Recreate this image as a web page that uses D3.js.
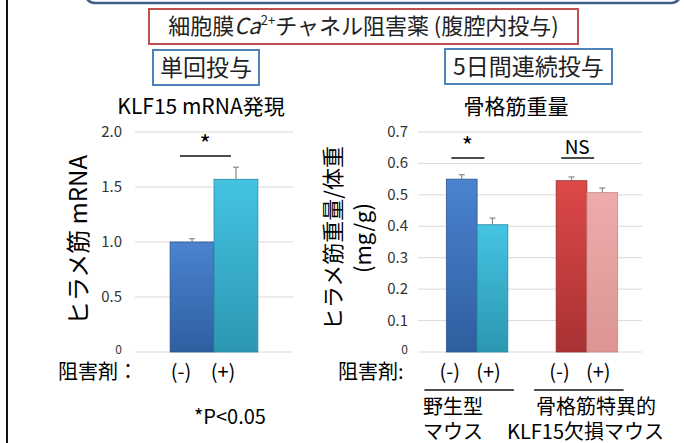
<!DOCTYPE html>
<html>
<head>
<meta charset="utf-8">
<script src="https://cdn.jsdelivr.net/npm/d3@7/dist/d3.min.js"></script>
<style>
  body { margin: 0; background: #fff; }
  svg { display: block; font-family: "Noto Sans CJK JP", "Noto Sans", sans-serif; }
</style>
</head>
<body>
<svg width="684" height="443"></svg>
<script>
// left chart: KLF15 mRNA
const klfGroups = ['(-)', '(+)'];
const klfMean = [1.0, 1.57];
const klfErr = [0.03, 0.11];
const klfTicks = [0, 0.5, 1.0, 1.5, 2.0];

// right chart: muscle weight
const mouseTypes = ['wt', 'ko'];
const inhibitor = ['(-)', '(+)'];
const massMean = {wt: [0.55, 0.405], ko: [0.545, 0.507]};
const massErr = {wt: [0.014, 0.021], ko: [0.012, 0.015]};
const massTicks = [0, 0.1, 0.2, 0.3, 0.4, 0.5, 0.6, 0.7];
const sigMarks = {wt: '*', ko: 'NS'};

let svg = d3.select('svg');

// gradients for the beveled bars
const grads = [
  ['gBlue', '#4b83d0', '#2f5e9f'],
  ['gCyan', '#45c3e3', '#2b97b1'],
  ['gRed', '#de4848', '#a83232'],
  ['gPink', '#eeabab', '#dc9494']
];
let defs = svg.append('defs');
grads.forEach(function(g) {
  let lg = defs.append('linearGradient')
    .attr('id', g[0]).attr('x1', 0).attr('x2', 0).attr('y1', 0).attr('y2', 1);
  lg.append('stop').attr('offset', '0%').attr('stop-color', g[1]);
  lg.append('stop').attr('offset', '100%').attr('stop-color', g[2]);
});

// frame pieces
svg.append('line')
  .attr('x1', 7).attr('x2', 7).attr('y1', 0).attr('y2', 443)
  .attr('stroke', '#111').attr('stroke-width', 2);
svg.append('rect')
  .attr('x', 85).attr('y', -30).attr('width', 596).attr('height', 33)
  .attr('rx', 10)
  .attr('fill', 'none').attr('stroke', '#3d5f8c').attr('stroke-width', 2.5);

// header boxes
function boxText(x, y, w, h, color, size) {
  svg.append('rect')
    .attr('x', x).attr('y', y).attr('width', w).attr('height', h)
    .attr('fill', '#fff').attr('stroke', color).attr('stroke-width', 2);
  return svg.append('text')
    .attr('x', x + w / 2).attr('y', y + h / 2 + size * 0.36)
    .attr('text-anchor', 'middle')
    .style('font-size', size + 'px')
    .attr('fill', '#222');
}
let head = boxText(149, 9, 429, 35, '#c0504d', 22);
head.append('tspan').text('細胞膜');
head.append('tspan').text('Ca').style('font-style', 'italic');
head.append('tspan').text('2+').attr('dy', -9).style('font-size', '13px');
head.append('tspan').text('チャネル阻害薬 (腹腔内投与)').attr('dy', 9);
boxText(153, 50, 106, 35, '#4f81bd', 23).text('単回投与');
boxText(445, 49, 167, 35, '#4f81bd', 23).text('5日間連続投与');

// ---------- left chart ----------
let xL = d3.scaleBand()
  .domain(klfGroups)
  .range([135, 293])
  .paddingInner(0)
  .paddingOuter(0.8);
let yL = d3.scaleLinear().domain([0, 2]).range([352, 132]);

let gL = svg.append('g');
gL.selectAll('line.grid')
  .data(klfTicks)
  .enter()
  .append('line')
  .attr('class', 'grid')
  .attr('x1', 135).attr('x2', 293)
  .attr('y1', function(d) { return yL(d); })
  .attr('y2', function(d) { return yL(d); })
  .attr('stroke', '#d9d9d9');
gL.selectAll('text.tick')
  .data(klfTicks)
  .enter()
  .append('text')
  .attr('class', 'tick')
  .attr('x', 122)
  .attr('y', function(d) { return d === 0 ? yL(d) + 2 : yL(d) + 5; })
  .attr('text-anchor', 'end')
  .style('font-size', function(d) { return d === 0 ? '12px' : '15px'; })
  .attr('fill', '#333')
  .text(function(d) { return d === 0 ? '0' : d.toFixed(1); });

gL.selectAll('rect.bar')
  .data(klfMean)
  .enter()
  .append('rect')
  .attr('class', 'bar')
  .attr('x', function(d, i) { return xL(klfGroups[i]); })
  .attr('width', xL.bandwidth())
  .attr('y', function(d) { return yL(d); })
  .attr('height', function(d) { return yL(0) - yL(d); })
  .attr('fill', function(d, i) { return i === 0 ? 'url(#gBlue)' : 'url(#gCyan)'; })
  .attr('stroke', function(d, i) { return i === 0 ? '#2c5690' : '#2a8aa3'; })
  .attr('stroke-width', 0.8);

klfMean.forEach(function(m, i) {
  let cx = xL(klfGroups[i]) + xL.bandwidth() / 2;
  gL.append('line')
    .attr('x1', cx).attr('x2', cx)
    .attr('y1', yL(m)).attr('y2', yL(m + klfErr[i]))
    .attr('stroke', '#888').attr('stroke-width', 1.2);
  gL.append('line')
    .attr('x1', cx - 3).attr('x2', cx + 3)
    .attr('y1', yL(m + klfErr[i])).attr('y2', yL(m + klfErr[i]))
    .attr('stroke', '#888').attr('stroke-width', 1.2);
  gL.append('text')
    .attr('x', cx - 11 + (i === 1 ? -2 : 0)).attr('y', 379)
    .attr('text-anchor', 'middle')
    .style('font-size', '20px')
    .text(klfGroups[i]);
});

gL.append('line')
  .attr('x1', 180).attr('x2', 231).attr('y1', 156).attr('y2', 156)
  .attr('stroke', '#111').attr('stroke-width', 1.5);
gL.append('text')
  .attr('x', 205).attr('y', 153)
  .attr('text-anchor', 'middle').style('font-size', '24px')
  .text('*');

gL.append('text')
  .attr('x', 201).attr('y', 114)
  .attr('text-anchor', 'middle').style('font-size', '21px')
  .text('KLF15 mRNA発現');
gL.append('text')
  .attr('transform', 'translate(87,240) rotate(-90)')
  .attr('text-anchor', 'middle').style('font-size', '24px')
  .text('ヒラメ筋 mRNA');
gL.append('text')
  .attr('x', 58).attr('y', 379)
  .style('font-size', '20px')
  .text('阻害剤：');
gL.append('text')
  .attr('x', 194).attr('y', 424)
  .style('font-size', '20px')
  .text('*P<0.05');

// ---------- right chart ----------
let xG = d3.scaleBand()
  .domain(mouseTypes)
  .range([420, 644])
  .paddingInner(0.44)
  .paddingOuter(0.24);
let xS = d3.scaleBand()
  .domain(inhibitor)
  .range([0, xG.bandwidth()]);
let yR = d3.scaleLinear().domain([0, 0.7]).range([352, 132]);

let gR = svg.append('g');
gR.selectAll('line.grid')
  .data(massTicks)
  .enter()
  .append('line')
  .attr('class', 'grid')
  .attr('x1', 418).attr('x2', 642)
  .attr('y1', function(d) { return yR(d); })
  .attr('y2', function(d) { return yR(d); })
  .attr('stroke', '#d9d9d9');
gR.selectAll('text.tick')
  .data(massTicks)
  .enter()
  .append('text')
  .attr('class', 'tick')
  .attr('x', 408)
  .attr('y', function(d) { return d === 0 ? yR(d) + 2 : yR(d) + 5; })
  .attr('text-anchor', 'end')
  .style('font-size', function(d) { return d === 0 ? '12px' : '15px'; })
  .attr('fill', '#333')
  .text(function(d) { return d === 0 ? '0' : d.toFixed(1); });

const fills = {wt: ['url(#gBlue)', 'url(#gCyan)'], ko: ['url(#gRed)', 'url(#gPink)']};
const edges = {wt: ['#2c5690', '#2a8aa3'], ko: ['#962c2c', '#c98484']};

mouseTypes.forEach(function(t) {
  let g = gR.append('g').attr('transform', 'translate(' + xG(t) + ',0)');
  g.selectAll('rect')
    .data(massMean[t])
    .enter()
    .append('rect')
    .attr('x', function(d, i) { return xS(inhibitor[i]); })
    .attr('width', xS.bandwidth())
    .attr('y', function(d) { return yR(d); })
    .attr('height', function(d) { return yR(0) - yR(d); })
    .attr('fill', function(d, i) { return fills[t][i]; })
    .attr('stroke', function(d, i) { return edges[t][i]; })
    .attr('stroke-width', 0.8);
  massMean[t].forEach(function(m, i) {
    let cx = xS(inhibitor[i]) + xS.bandwidth() / 2;
    let top = yR(m + massErr[t][i]);
    g.append('line')
      .attr('x1', cx).attr('x2', cx).attr('y1', yR(m)).attr('y2', top)
      .attr('stroke', '#888').attr('stroke-width', 1.2);
    g.append('line')
      .attr('x1', cx - 3).attr('x2', cx + 3).attr('y1', top).attr('y2', top)
      .attr('stroke', '#888').attr('stroke-width', 1.2);
    g.append('text')
      .attr('x', cx + (i === 0 ? -12 : -4)).attr('y', 379)
      .attr('text-anchor', 'middle').style('font-size', '20px')
      .text(inhibitor[i]);
  });
  // significance mark
  g.append('line')
    .attr('x1', 5).attr('x2', 38).attr('y1', 158).attr('y2', 158)
    .attr('stroke', '#111').attr('stroke-width', 1.5);
  g.append('text')
    .attr('x', 21).attr('y', sigMarks[t] === '*' ? 155 : 154)
    .attr('text-anchor', 'middle')
    .style('font-size', sigMarks[t] === '*' ? '24px' : '19px')
    .text(sigMarks[t]);
  // group underline
  g.append('line')
    .attr('x1', -22).attr('x2', xG.bandwidth() + 6)
    .attr('y1', 390).attr('y2', 390)
    .attr('stroke', '#111').attr('stroke-width', 1.5);
});

gR.append('text')
  .attr('x', 516).attr('y', 114)
  .attr('text-anchor', 'middle').style('font-size', '21px')
  .text('骨格筋重量');
gR.append('text')
  .attr('transform', 'translate(341,238) rotate(-90)')
  .attr('text-anchor', 'middle').style('font-size', '22px')
  .text('ヒラメ筋重量/体重');
gR.append('text')
  .attr('transform', 'translate(371,238) rotate(-90)')
  .attr('text-anchor', 'middle').style('font-size', '22px')
  .text('(mg/g)');
gR.append('text')
  .attr('x', 338).attr('y', 379)
  .style('font-size', '20px')
  .text('阻害剤:');
gR.append('text').attr('x', 423).attr('y', 414).style('font-size', '20px').text('野生型');
gR.append('text').attr('x', 423).attr('y', 439).style('font-size', '20px').text('マウス');
gR.append('text').attr('x', 596).attr('y', 414).attr('text-anchor', 'middle')
  .style('font-size', '20px').text('骨格筋特異的');
gR.append('text').attr('x', 507).attr('y', 439).style('font-size', '20px').text('KLF15欠損マウス');
</script>
</body>
</html>
